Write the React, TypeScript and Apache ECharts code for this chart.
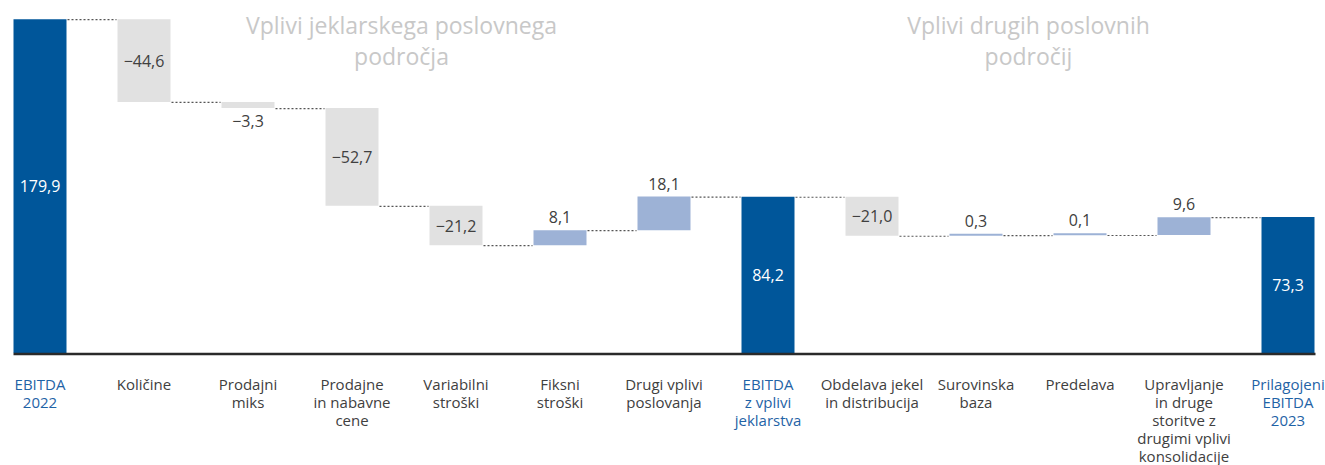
import React, { useEffect, useRef } from "react";
import * as echarts from "echarts";

const categories = [
  "EBITDA\n2022",
  "Količine",
  "Prodajni\nmiks",
  "Prodajne\nin nabavne\ncene",
  "Variabilni\nstroški",
  "Fiksni\nstroški",
  "Drugi vplivi\nposlovanja",
  "EBITDA\nz vplivi\njeklarstva",
  "Obdelava jekel\nin distribucija",
  "Surovinska\nbaza",
  "Predelava",
  "Upravljanje\nin druge\nstoritve z\ndrugimi vplivi\nkonsolidacije",
  "Prilagojeni\nEBITDA\n2023",
];
const values = [179.9, -44.6, -3.3, -52.7, -21.2, 8.1, 18.1, 84.2, -21.0, 0.3, 0.1, 9.6, 73.3];
const isTotal = [true, false, false, false, false, false, false, true, false, false, false, false, true];
const groupTitles = ["Vplivi jeklarskega poslovnega\npodročja", "Vplivi drugih poslovnih\npodročij"];

const DARK_BLUE = "#00569a";
const LIGHT_BLUE = "#9db2d6";
const LIGHT_GREY = "#e1e1e1";
const TEXT = "#404040";
const FONT = "'Open Sans', 'Noto Sans', sans-serif";

// the chart canvas is shifted left so that bands are 104px with the first bar edge at x=13
const OFFSET = 12.5;

function fmt(v: number): string {
  const s = Math.abs(v).toFixed(1).replace(".", ",");
  return v < 0 ? "\u2212" + s : s;
}

export default function App() {
  const ref = useRef<HTMLDivElement>(null);

  useEffect(() => {
    if (!ref.current) return;
    const chart = echarts.init(ref.current, undefined, { renderer: "svg" });

    const starts: number[] = [];
    const ends: number[] = [];
    let running = 0;
    values.forEach((v, i) => {
      if (isTotal[i]) {
        starts.push(0);
        ends.push(v);
        running = v;
      } else {
        starts.push(running);
        ends.push(running + v);
        running += v;
      }
    });

    const baseData = values.map((_, i) => Math.min(starts[i], ends[i]));
    const valueData = values.map((v, i) => {
      const color = isTotal[i] ? DARK_BLUE : v < 0 ? LIGHT_GREY : LIGHT_BLUE;
      let position: any = "top";
      let labelColor = TEXT;
      if (isTotal[i]) {
        position = "inside";
        labelColor = "#ffffff";
      } else if (v < 0) {
        position = Math.abs(v) < 5 ? "bottom" : "inside";
      }
      return {
        value: Math.abs(v),
        itemStyle: { color },
        label: { position, color: labelColor },
      };
    });
    const connectorData = values.slice(0, values.length - 1).map((_, i) => [i, ends[i]]);

    const BAR_W = 53;

    chart.setOption({
      animation: false,
      grid: { left: 0, right: 0, top: 19, bottom: 111, containLabel: false },
      xAxis: {
        type: "category",
        data: categories.map((c, i) => ({
          value: c,
          textStyle: { color: isTotal[i] ? "#1f63a6" : TEXT },
        })),
        axisLine: { show: false },
        axisTick: { show: false },
        axisLabel: {
          interval: 0,
          fontFamily: FONT,
          fontSize: 15,
          lineHeight: 18,
          margin: 22,
          color: TEXT,
        },
      },
      yAxis: {
        type: "value",
        min: 0,
        max: 180,
        show: false,
        splitLine: { show: false },
      },
      series: [
        {
          type: "bar",
          stack: "w",
          barWidth: BAR_W,
          data: baseData,
          itemStyle: { color: "transparent" },
          silent: true,
          label: { show: false },
        },
        {
          type: "bar",
          stack: "w",
          barWidth: BAR_W,
          barMinHeight: 2,
          data: valueData,
          label: {
            show: true,
            fontFamily: FONT,
            fontSize: 16,
            distance: 5,
            formatter: (p: any) => fmt(values[p.dataIndex]),
          },
        },
        {
          type: "custom",
          data: connectorData,
          silent: true,
          z: 5,
          renderItem: (params: any, api: any) => {
            const i = api.value(0);
            const level = api.value(1);
            const p = api.coord([i, level]);
            const band = api.size([1, 0])[0];
            return {
              type: "line",
              shape: {
                x1: p[0] + BAR_W / 2 + 1,
                y1: p[1] + 0.5,
                x2: p[0] + band - BAR_W / 2 - 1,
                y2: p[1] + 0.5,
              },
              style: { stroke: "#555555", lineWidth: 1.2, lineDash: [2, 2] },
            };
          },
        },
      ],
      graphic: [
        {
          type: "line",
          shape: { x1: 13 + OFFSET, y1: 354, x2: 1315 + OFFSET, y2: 354 },
          style: { stroke: "#2a2a2a", lineWidth: 2.5 },
          z: 10,
        },
        {
          type: "text",
          x: 401 + OFFSET,
          y: 9,
          style: {
            text: groupTitles[0],
            align: "center",
            verticalAlign: "top",
            fontFamily: FONT,
            fontSize: 23,
            lineHeight: 31,
            fill: "#c8c8c8",
          },
        },
        {
          type: "text",
          x: 1028 + OFFSET,
          y: 9,
          style: {
            text: groupTitles[1],
            align: "center",
            verticalAlign: "top",
            fontFamily: FONT,
            fontSize: 23,
            lineHeight: 31,
            fill: "#c8c8c8",
          },
        },
      ],
    });

    return () => chart.dispose();
  }, []);

  return (
    <div
      ref={ref}
      style={{ position: "fixed", left: -OFFSET, top: 0, width: 1352, height: 465, background: "#fff" }}
    />
  );
}
